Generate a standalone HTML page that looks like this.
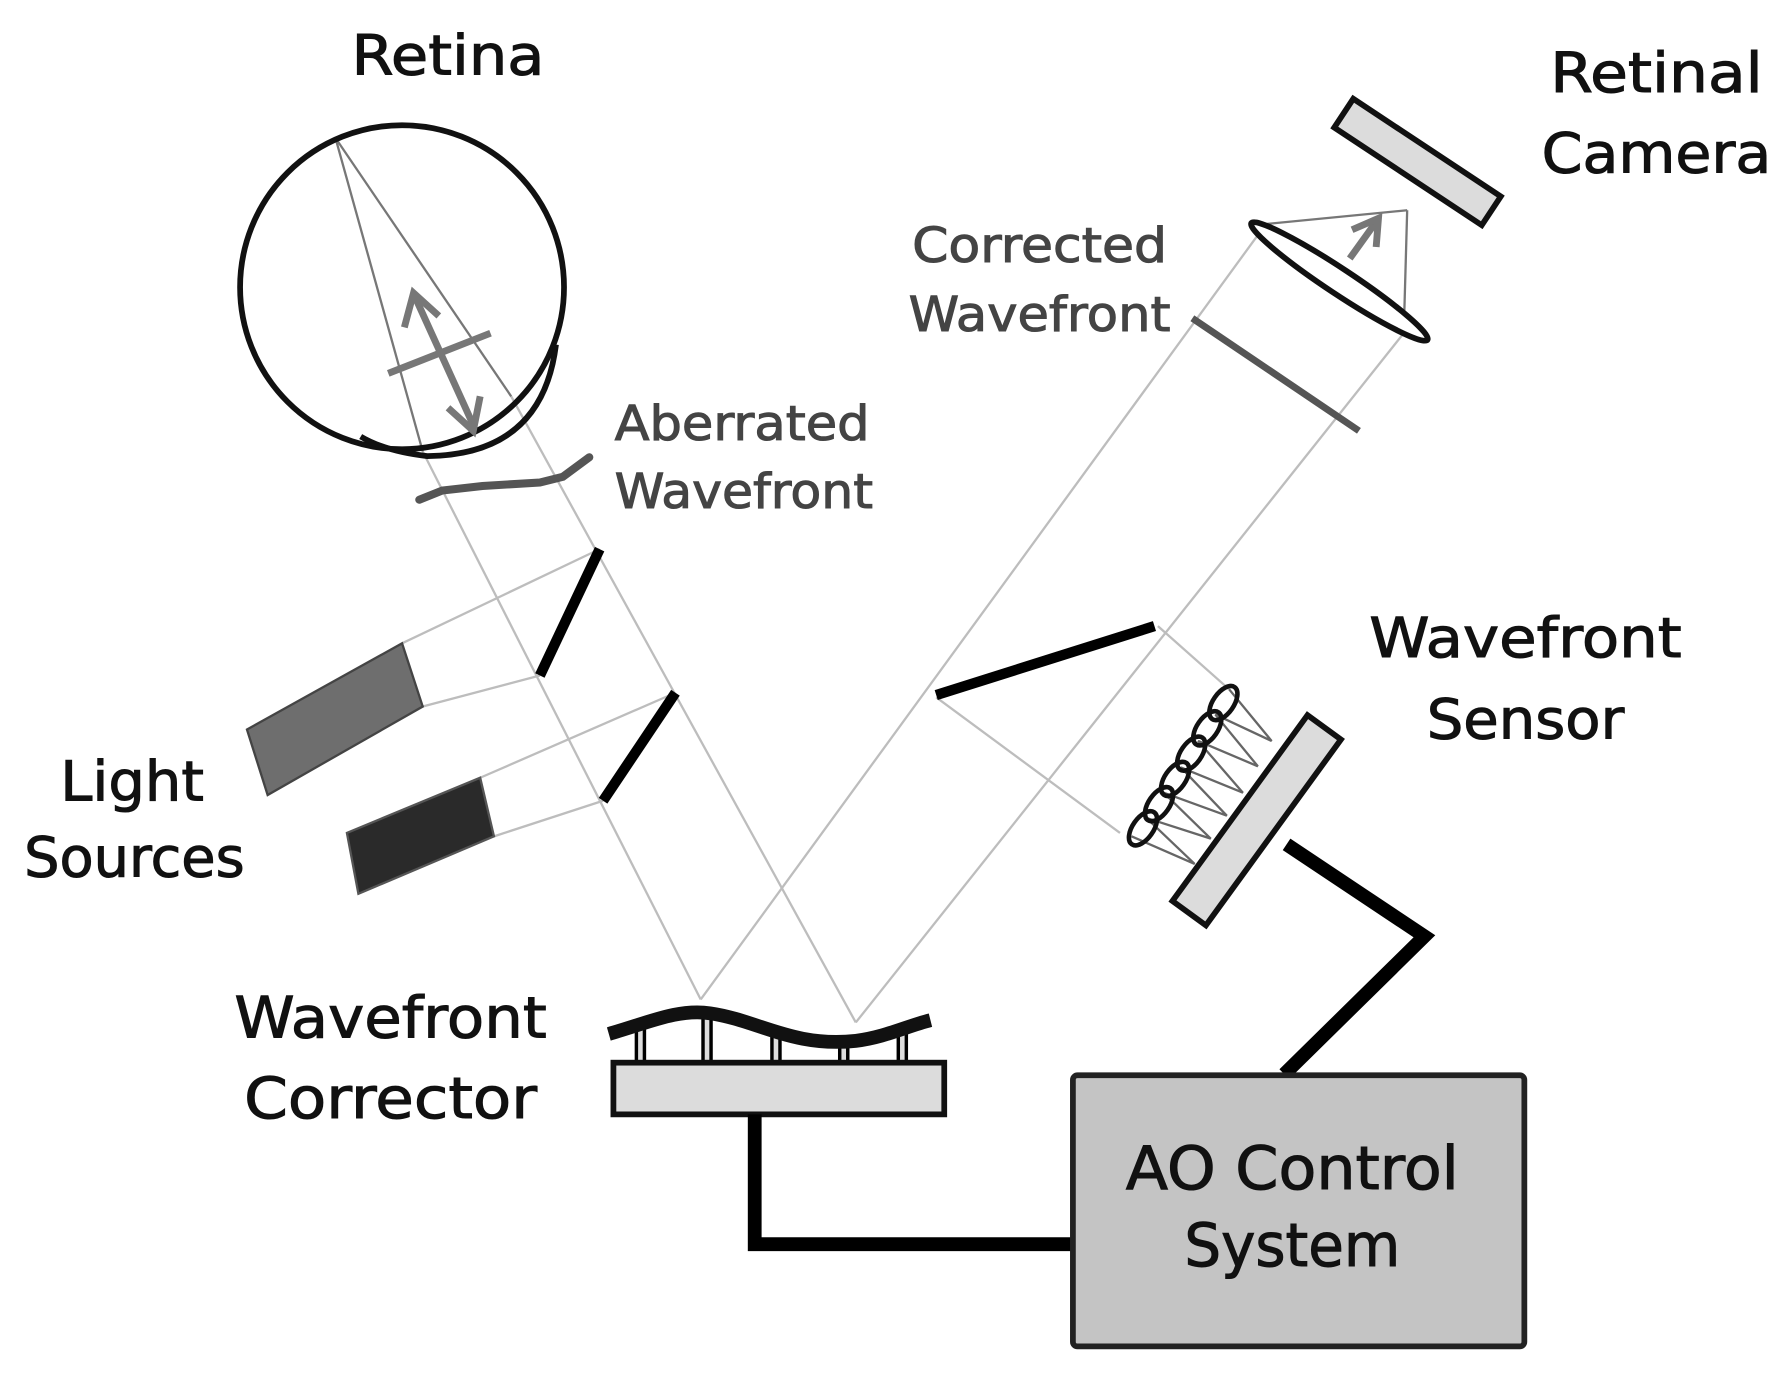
<!DOCTYPE html>
<html><head><meta charset="utf-8"><style>
html,body{margin:0;padding:0;background:#fff;}
svg{display:block;}
text{font-family:"DejaVu Sans","Liberation Sans",sans-serif;stroke-width:0.9;}
</style></head><body>
<svg width="1792" height="1374" viewBox="0 0 1560 1196" preserveAspectRatio="none" xmlns="http://www.w3.org/2000/svg">
<rect width="1560" height="1196" fill="#fff"/>
<g stroke="#bdbdbd" stroke-width="2" fill="none">
<polyline points="368,393 610,870"/>
<polyline points="445,345 745,890"/>
<line x1="350" y1="560" x2="522" y2="478"/>
<line x1="368" y1="615" x2="470" y2="588"/>
<line x1="418" y1="677" x2="588" y2="603"/>
<line x1="430" y1="728" x2="525" y2="697"/>
<line x1="610" y1="870" x2="1102" y2="195"/>
<line x1="745" y1="890" x2="1222" y2="290"/>
<line x1="815" y1="607" x2="975" y2="725"/>
<line x1="1008" y1="545" x2="1070" y2="600"/>
</g>
<g stroke="#777" stroke-width="2" fill="none">
<polyline points="292,120 368,393"/>
<polyline points="292,120 445,345"/>
<line x1="1102" y1="195" x2="1225" y2="183"/>
<line x1="1225" y1="183" x2="1222" y2="290"/>
</g>
<ellipse cx="350" cy="250" rx="141" ry="141" fill="none" stroke="#111" stroke-width="5"/>
<path d="M484 300 Q472 396 372 397 Q336 393 314 380" fill="none" stroke="#111" stroke-width="5"/>
<line x1="338" y1="325" x2="427" y2="290" stroke="#777" stroke-width="6"/>
<line x1="362" y1="260" x2="412" y2="370" stroke="#777" stroke-width="6"/>
<polyline points="352,285 360,255 382,275" fill="none" stroke="#777" stroke-width="6"/>
<polyline points="390,355 412,375 418,345" fill="none" stroke="#777" stroke-width="6"/>
<path d="M365 435 L385 427 L420 423 L470 420 L490 415 L513 398" fill="none" stroke="#555" stroke-width="7" stroke-linecap="round"/>
<g stroke="#000" stroke-width="9">
<line x1="522" y1="478" x2="470" y2="588"/>
<line x1="588" y1="603" x2="525" y2="697"/>
<line x1="815" y1="605" x2="1005" y2="545"/>
</g>
<polygon points="215,635 350,560 368,615 233,692" fill="#6e6e6e" stroke="#444" stroke-width="2"/>
<polygon points="302,725 418,677 430,728 312,778" fill="#2a2a2a" stroke="#555" stroke-width="2"/>
<g stroke="#000" stroke-width="3" fill="#ddd">
<rect x="554" y="895" width="7" height="30"/>
<rect x="612" y="885" width="7" height="40"/>
<rect x="672" y="900" width="7" height="25"/>
<rect x="731" y="906" width="7" height="19"/>
<rect x="782" y="897" width="7" height="28"/>
</g>
<path d="M530 900 C565 890 590 878 618 882 C660 888 690 912 745 906 C770 903 790 893 810 888" fill="none" stroke="#111" stroke-width="12"/>
<rect x="534" y="925" width="288" height="45" fill="#dcdcdc" stroke="#111" stroke-width="5"/>
<polyline points="657,970 657,1083 932,1083" fill="none" stroke="#000" stroke-width="12"/>
<polyline points="1118,935 1240,815 1120,735" fill="none" stroke="#000" stroke-width="12"/>
<rect x="934" y="936" width="393" height="236" rx="4" fill="#c4c4c4" stroke="#222" stroke-width="5"/>
<text x="1125" y="1035" font-size="52" text-anchor="middle" textLength="290" lengthAdjust="spacingAndGlyphs" fill="#111" stroke="#111">AO Control</text>
<text x="1125" y="1102" font-size="52" text-anchor="middle" textLength="188" lengthAdjust="spacingAndGlyphs" fill="#111" stroke="#111">System</text>
<g transform="translate(1234,141) rotate(33.5)">
<rect x="-77" y="-15" width="154" height="30" fill="#dcdcdc" stroke="#111" stroke-width="5"/>
</g>
<g transform="translate(1166,245) rotate(33.5)">
<ellipse cx="0" cy="0" rx="92" ry="11" fill="#fff" stroke="#111" stroke-width="5"/>
</g>
<line x1="1175" y1="225" x2="1198" y2="193" stroke="#777" stroke-width="6"/>
<polyline points="1177,200 1200,190 1198,215" fill="none" stroke="#777" stroke-width="6"/>
<line x1="1038" y1="277" x2="1183" y2="375" stroke="#555" stroke-width="6"/>
<g stroke="#666" stroke-width="2" fill="none">
<polyline points="1070,600 1107,645 1058,622 1095,667 1043,645 1082,690 1028,668 1068,710 1013,690 1054,730 998,712 1040,752 985,728"/>
</g>
<g fill="none" stroke="#111" stroke-width="4">
<ellipse cx="1065" cy="612" rx="9" ry="17" transform="rotate(35 1065 612)"/>
<ellipse cx="1051" cy="634" rx="9" ry="17" transform="rotate(35 1051 634)"/>
<ellipse cx="1037" cy="656" rx="9" ry="17" transform="rotate(35 1037 656)"/>
<ellipse cx="1023" cy="678" rx="9" ry="17" transform="rotate(35 1023 678)"/>
<ellipse cx="1009" cy="700" rx="9" ry="17" transform="rotate(35 1009 700)"/>
<ellipse cx="995" cy="721" rx="9" ry="17" transform="rotate(35 995 721)"/>
</g>
<g transform="translate(1094,714) rotate(-54)">
<rect x="-100" y="-18" width="200" height="36" fill="#dcdcdc" stroke="#111" stroke-width="5"/>
</g>
<g fill="#111" stroke="#111">
<text x="390" y="65" font-size="48" text-anchor="middle" textLength="168" lengthAdjust="spacingAndGlyphs">Retina</text>
<text x="1442" y="80" font-size="48" text-anchor="middle" textLength="185" lengthAdjust="spacingAndGlyphs">Retinal</text>
<text x="1442" y="150" font-size="48" text-anchor="middle" textLength="200" lengthAdjust="spacingAndGlyphs">Camera</text>
<text x="1328" y="572" font-size="48" text-anchor="middle" textLength="272" lengthAdjust="spacingAndGlyphs">Wavefront</text>
<text x="1328" y="643" font-size="48" text-anchor="middle" textLength="172" lengthAdjust="spacingAndGlyphs">Sensor</text>
<text x="115" y="697" font-size="48" text-anchor="middle" textLength="125" lengthAdjust="spacingAndGlyphs">Light</text>
<text x="117" y="763" font-size="48" text-anchor="middle" textLength="192" lengthAdjust="spacingAndGlyphs">Sources</text>
<text x="340" y="903" font-size="50" text-anchor="middle" textLength="272" lengthAdjust="spacingAndGlyphs">Wavefront</text>
<text x="340" y="973" font-size="50" text-anchor="middle" textLength="255" lengthAdjust="spacingAndGlyphs">Corrector</text>
</g>
<g fill="#444" stroke="#444">
<text x="905" y="228" font-size="42" text-anchor="middle" textLength="222" lengthAdjust="spacingAndGlyphs">Corrected</text>
<text x="905" y="288" font-size="42" text-anchor="middle" textLength="228" lengthAdjust="spacingAndGlyphs">Wavefront</text>
<text x="535" y="383" font-size="42" textLength="222" lengthAdjust="spacingAndGlyphs">Aberrated</text>
<text x="535" y="442" font-size="42" textLength="225" lengthAdjust="spacingAndGlyphs">Wavefront</text>
</g>
</svg>
</body></html>
